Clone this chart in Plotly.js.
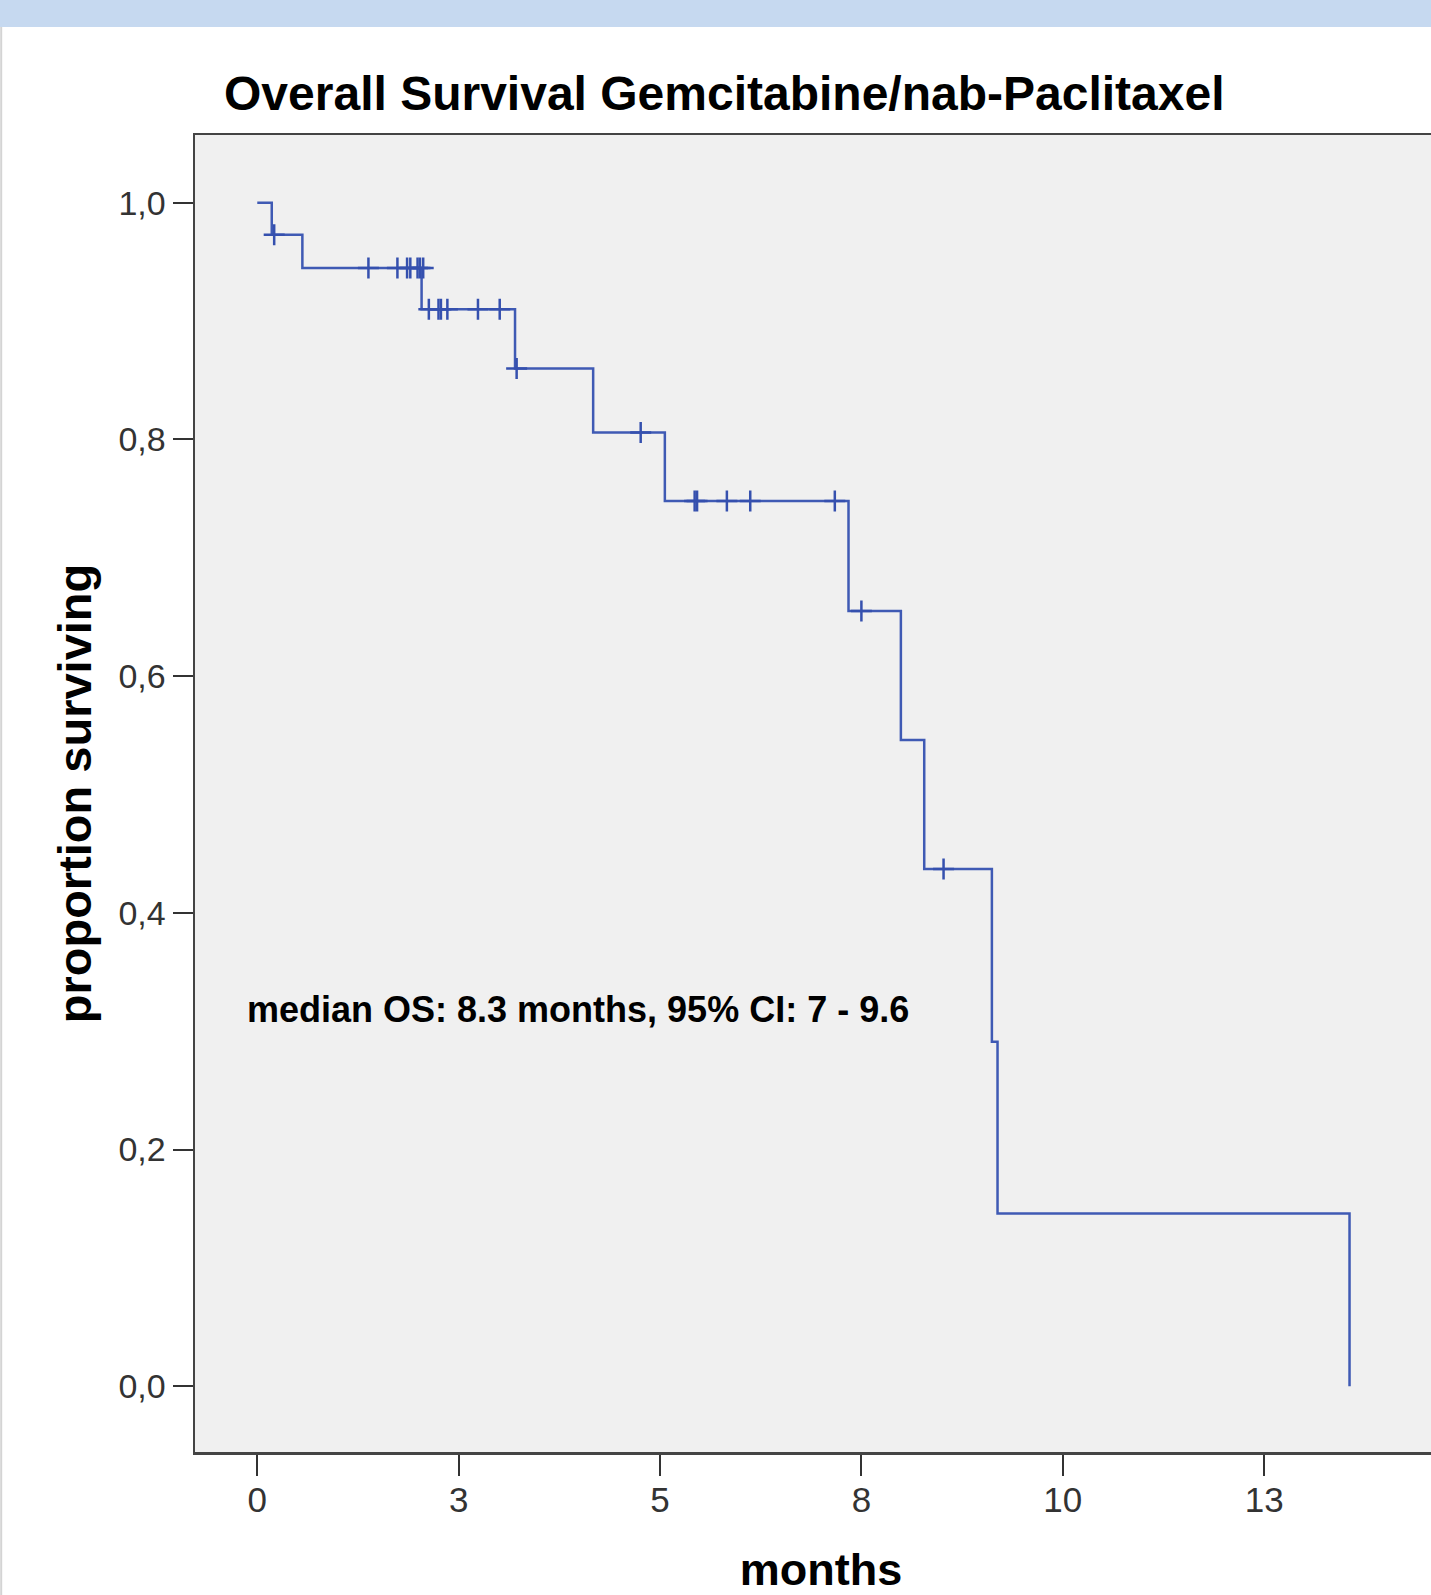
<!DOCTYPE html>
<html>
<head>
<meta charset="utf-8">
<script src="https://cdn.plot.ly/plotly-3.0.1.min.js"></script>
<style>
  html, body { margin: 0; padding: 0; overflow: hidden; background: #ffffff; }
  #chart { width: 1467px; height: 1595px; }
</style>
</head>
<body>
<div id="chart"></div>
<script>
// Kaplan-Meier step curve: event times (months) and survival after each step
const eventTimes = [0, 0.18, 0.56, 2.04, 3.20, 4.17, 5.06, 7.34, 7.99, 8.28, 9.12, 9.19, 13.56];
const survival   = [1.000, 0.973, 0.945, 0.910, 0.860, 0.806, 0.748, 0.655, 0.546, 0.437, 0.291, 0.146, 0.000];

// Censored observations (months) and the survival level they sit on
const censorTimes    = [0.21, 1.38, 1.74, 1.86, 1.90, 1.99, 2.02, 2.06, 2.13, 2.25, 2.28, 2.36, 2.74, 3.01, 3.22, 4.76, 5.43, 5.46, 5.83, 6.12, 7.17, 7.50, 8.52];
const censorSurvival = [0.973, 0.945, 0.945, 0.945, 0.945, 0.945, 0.945, 0.945, 0.910, 0.910, 0.910, 0.910, 0.910, 0.910, 0.860, 0.806, 0.748, 0.748, 0.748, 0.748, 0.748, 0.655, 0.437];

// Axis ticks
const xTickVals  = [0, 2.5, 5, 7.5, 10, 12.5];
const xTickText  = ["0", "3", "5", "8", "10", "13"];
const yTickVals  = [0, 0.2, 0.4, 0.6, 0.8, 1.0];
const yTickText  = ["0,0", "0,2", "0,4", "0,6", "0,8", "1,0"];

const titleText = "Overall Survival Gemcitabine/nab-Paclitaxel";
const xTitle = "months";
const yTitle = "proportion surviving";
const noteText = "median OS: 8.3 months, 95% CI: 7 - 9.6";

const lineColor = "#3F5AB4";
const FONT = "Liberation Sans, Arial, sans-serif";

const traces = [
  {
    x: eventTimes, y: survival,
    type: "scatter", mode: "lines",
    line: { color: lineColor, width: 2.5, shape: "hv" },
    hoverinfo: "skip", showlegend: false
  },
  {
    x: censorTimes, y: censorSurvival,
    type: "scatter", mode: "markers",
    marker: { symbol: "cross-thin", size: 15, color: "#3550AE", line: { color: "#3550AE", width: 2.5 } },
    hoverinfo: "skip", showlegend: false
  }
];

const layout = {
  width: 1467, height: 1595,
  margin: { l: 195, r: 20, t: 135, b: 143, pad: 0 },
  paper_bgcolor: "#ffffff",
  plot_bgcolor: "#F0F0F0",
  showlegend: false,
  font: { family: FONT, color: "#333333" },
  title: {
    text: titleText,
    font: { family: FONT, size: 48, color: "#000000", weight: "bold" },
    xref: "paper", x: 0.0232, xanchor: "left",
    yref: "container", y: 0.9417, yanchor: "middle"
  },
  xaxis: {
    range: [-0.773, 14.77],
    tickmode: "array", tickvals: xTickVals, ticktext: xTickText,
    ticks: "outside", ticklen: 21, tickwidth: 2, tickcolor: "#333333",
    ticklabelstandoff: -6,
    tickfont: { family: FONT, size: 35, color: "#333333" },
    showline: true, linecolor: "#444444", linewidth: 2.5, mirror: true,
    showgrid: false, zeroline: false, automargin: false,
    title: { text: xTitle, font: { family: FONT, size: 45, color: "#000000", weight: "bold" }, standoff: 45 }
  },
  yaxis: {
    range: [-0.0556, 1.0573],
    tickmode: "array", tickvals: yTickVals, ticktext: yTickText,
    ticks: "outside", ticklen: 20, tickwidth: 2, tickcolor: "#333333",
    tickfont: { family: FONT, size: 34, color: "#333333" },
    showline: true, linecolor: "#444444", linewidth: 2.5, mirror: true,
    showgrid: false, zeroline: false, automargin: false,
    title: { text: yTitle, font: { family: FONT, size: 47, color: "#000000", weight: "bold" }, standoff: 12 }
  },
  annotations: [
    {
      text: noteText, showarrow: false,
      xref: "paper", x: 0.040, xanchor: "left",
      yref: "y", y: 0.318, yanchor: "middle",
      font: { family: FONT, size: 36, color: "#000000", weight: "bold" }
    }
  ],
  shapes: [
    { type: "rect", xref: "paper", yref: "paper", x0: -0.2, x1: 1.2, y0: 1.082, y1: 1.12,
      fillcolor: "#C6D9F0", line: { width: 0 }, layer: "above" },
    { type: "line", xref: "paper", yref: "paper", x0: -0.1548, x1: -0.1548, y0: -0.2, y1: 1.082,
      line: { color: "#D4D4D4", width: 2 } }
  ]
};

Plotly.newPlot("chart", traces, layout, { displayModeBar: false, staticPlot: true });
</script>
</body>
</html>
